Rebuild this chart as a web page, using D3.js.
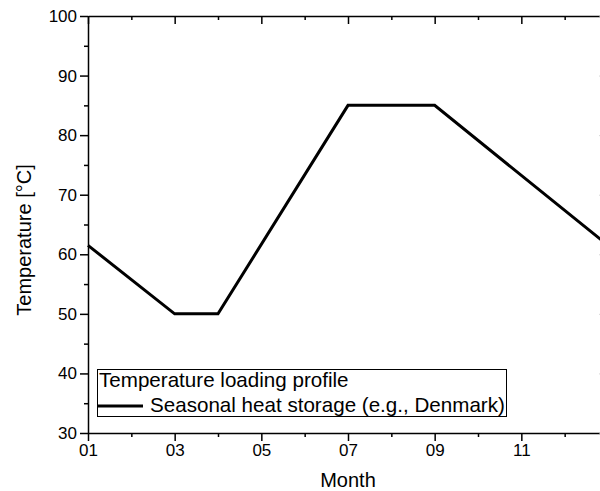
<!DOCTYPE html>
<html><head><meta charset="utf-8">
<script src="https://cdn.jsdelivr.net/npm/d3@7"></script>
<style>body{margin:0;background:#fff;overflow:hidden}svg{display:block}text{font-family:"Liberation Sans",Arial,sans-serif;fill:#000}</style>
</head><body>
<script>
const months = [1, 3, 4, 7, 9, 13];
const temps = [61.5, 50, 50, 85, 85, 61.5];
const xMajorTicks = [1, 3, 5, 7, 9, 11, 13];
const xTickLabels = ["01", "03", "05", "07", "09", "11", ""];
const yMajorTicks = [30, 40, 50, 60, 70, 80, 90, 100];
const seriesName = "Seasonal heat storage (e.g., Denmark)";
const legendTitle = "Temperature loading profile";

const W = 600, H = 491;
const L = 88, R = 608, T = 16, B = 433;
const svg = d3.select("body").append("svg").attr("width", W).attr("height", H);
const x = d3.scaleLinear().domain([1, 13]).range([L, R]);
const y = d3.scaleLinear().domain([30, 100]).range([B, T]);

const xMinor = d3.range(2, 13, 2);
const yMinor = d3.range(35, 100, 10);

function styleAxis(g){
  g.select(".domain").attr("stroke","#000").attr("stroke-width",1.5);
  g.selectAll(".tick line").attr("stroke","#000").attr("stroke-width",1.5);
}
// bottom
const gb = svg.append("g").attr("transform",`translate(0,${B})`)
  .call(d3.axisBottom(x).tickValues(xMajorTicks).tickSize(8).tickSizeOuter(0).tickPadding(3)
    .tickFormat((d,i)=>xTickLabels[i]));
styleAxis(gb);
gb.selectAll("text").attr("font-size",17);
svg.append("g").attr("transform",`translate(0,${B})`)
  .call(d3.axisBottom(x).tickValues(xMinor).tickSize(4).tickFormat(""))
  .call(g=>{g.select(".domain").remove();g.selectAll("line").attr("stroke","#000").attr("stroke-width",1.5);});
// top
const gt = svg.append("g").attr("transform",`translate(0,${T})`)
  .call(d3.axisTop(x).tickValues(xMajorTicks).tickSize(-8).tickSizeOuter(0).tickFormat(""));
styleAxis(gt);
svg.append("g").attr("transform",`translate(0,${T})`)
  .call(d3.axisTop(x).tickValues(xMinor).tickSize(-4).tickFormat(""))
  .call(g=>{g.select(".domain").remove();g.selectAll("line").attr("stroke","#000").attr("stroke-width",1.5);});
// left
const gl = svg.append("g").attr("transform",`translate(${L},0)`)
  .call(d3.axisLeft(y).tickValues(yMajorTicks).tickSize(8).tickSizeOuter(0).tickPadding(3));
styleAxis(gl);
gl.selectAll("text").attr("font-size",17);
svg.append("g").attr("transform",`translate(${L},0)`)
  .call(d3.axisLeft(y).tickValues(yMinor).tickSize(4).tickFormat(""))
  .call(g=>{g.select(".domain").remove();g.selectAll("line").attr("stroke","#000").attr("stroke-width",1.5);});
// right (mostly off-canvas)
const gr = svg.append("g").attr("transform",`translate(${R},0)`)
  .call(d3.axisRight(y).tickValues(yMajorTicks).tickSize(-8.6).tickSizeOuter(0).tickFormat(""));
gr.select(".domain").attr("stroke","#000").attr("stroke-width",1.5);
gr.selectAll(".tick line").attr("stroke","#bbb").attr("stroke-width",1);

// line
const line = d3.line().x((d,i)=>x(months[i])).y(d=>y(d));
svg.append("path").datum(temps).attr("d",line).attr("fill","none")
  .attr("stroke","#000").attr("stroke-width",3).attr("stroke-linejoin","miter");

// axis titles
svg.append("text").attr("x",(L+R)/2).attr("y",487).attr("text-anchor","middle")
  .attr("font-size",20).text("Month");
svg.append("text").attr("transform",`translate(31,240) rotate(-90)`)
  .attr("text-anchor","middle").attr("font-size",20).text("Temperature [°C]");

// legend
const lg = svg.append("g");
lg.append("rect").attr("x",97.5).attr("y",369.5).attr("width",409).attr("height",47)
  .attr("fill","#fff").attr("stroke","#000").attr("stroke-width",1);
lg.append("text").attr("x",99).attr("y",387).attr("font-size",20.6).text(legendTitle);
lg.append("line").attr("x1",97).attr("x2",143).attr("y1",406).attr("y2",406)
  .attr("stroke","#000").attr("stroke-width",3);
lg.append("text").attr("x",150).attr("y",412).attr("font-size",20.6).text(seriesName);
</script>
</body></html>
